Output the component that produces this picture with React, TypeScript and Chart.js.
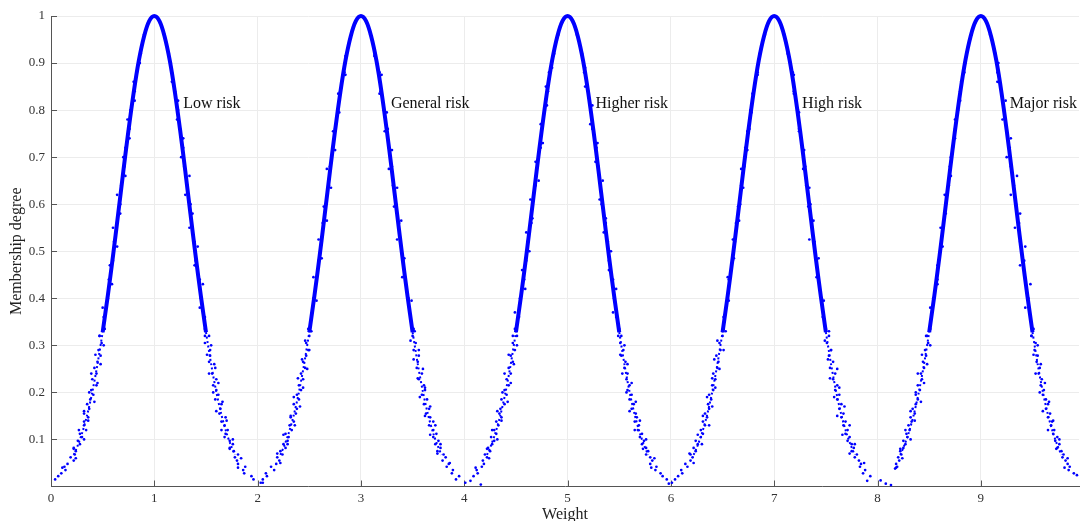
import { useEffect, useRef } from "react";
import { Chart, registerables } from "chart.js";

Chart.register(...registerables);

// ---- data ----
const riskCenters = [1, 3, 5, 7, 9];
const riskLabels = ["Low risk", "General risk", "Higher risk", "High risk", "Major risk"];
const labelX = [1.28, 3.29, 5.27, 7.27, 9.28];
const labelY = [0.804, 0.804, 0.804, 0.804, 0.804];

const xTickValues = [0, 1, 2, 3, 4, 5, 6, 7, 8, 9];
const yTickValues = [0.1, 0.2, 0.3, 0.4, 0.5, 0.6, 0.7, 0.8, 0.9, 1];

// dense core of each cloud (offset from the cloud centre, membership degree)
const coreOffsets = [-0.5, -0.45, -0.4, -0.35, -0.3, -0.25, -0.2, -0.15, -0.1, -0.05, 0, 0.05, 0.1, 0.15, 0.2, 0.25, 0.3, 0.35, 0.4, 0.45, 0.5];
const coreDegrees = [0.328, 0.406, 0.49, 0.579, 0.67, 0.757, 0.837, 0.905, 0.956, 0.989, 1, 0.989, 0.956, 0.905, 0.837, 0.757, 0.67, 0.579, 0.49, 0.406, 0.328];
// thinner trail of drops below the core, one per flank
const trailOffsetsLeft = [-0.78, -0.74, -0.7, -0.65, -0.6, -0.55, -0.5];
const trailOffsetsRight = [0.5, 0.55, 0.6, 0.65, 0.7, 0.74, 0.78];
const trailDegreesLeft = [0.067, 0.088, 0.113, 0.152, 0.201, 0.26, 0.328];
const trailDegreesRight = [0.328, 0.26, 0.201, 0.152, 0.113, 0.088, 0.067];

// cloud drops [weight, membership]
const lowRiskDrops = [
  [0.04, 0.015], [0.07, 0.022], [0.1, 0.028], [0.14, 0.035], [0.13, 0.042], [0.16, 0.048], [0.22, 0.055], [0.19, 0.062], [0.23, 0.068], [0.24, 0.075], [0.22, 0.082], [0.28, 0.09], [0.26, 0.097], [0.3, 0.105], [0.28, 0.112], [0.34, 0.12], [0.32, 0.13], [0.32, 0.138], [0.36, 0.147], [0.32, 0.155], [0.37, 0.165], [0.35, 0.175], [0.38, 0.185], [0.41, 0.195], [0.39, 0.205], [0.44, 0.215], [0.4, 0.228], [0.44, 0.24], [0.42, 0.252], [0.45, 0.265], [0.48, 0.278], [0.46, 0.29], [0.49, 0.305], [0.47, 0.32], [0.52, 0.335],
  [0.51, 0.36], [0.55, 0.4], [0.56, 0.44], [0.6, 0.48], [0.61, 0.52], [0.64, 0.56], [0.67, 0.6], [0.68, 0.64], [0.71, 0.68], [0.72, 0.72], [0.76, 0.76], [0.77, 0.8], [0.81, 0.84], [0.83, 0.88], [0.87, 0.92], [0.9, 0.96],
  [1.1, 0.96], [1.14, 0.92], [1.17, 0.88], [1.2, 0.84], [1.23, 0.8], [1.25, 0.76], [1.28, 0.72], [1.29, 0.68], [1.32, 0.64], [1.35, 0.6], [1.36, 0.56], [1.39, 0.52], [1.4, 0.48], [1.44, 0.44], [1.45, 0.4], [1.49, 0.36],
  [1.49, 0.335], [1.53, 0.32], [1.49, 0.305], [1.54, 0.29], [1.54, 0.278], [1.53, 0.265], [1.59, 0.252], [1.56, 0.24], [1.6, 0.228], [1.57, 0.215], [1.6, 0.205], [1.62, 0.195], [1.59, 0.185], [1.65, 0.175], [1.64, 0.165], [1.63, 0.155], [1.69, 0.147], [1.65, 0.138], [1.68, 0.13], [1.71, 0.12], [1.69, 0.112], [1.68, 0.105], [1.73, 0.097], [1.76, 0.09], [1.73, 0.082], [1.77, 0.075], [1.81, 0.068], [1.78, 0.062], [1.8, 0.055], [1.81, 0.048], [1.88, 0.042], [1.86, 0.035], [1.87, 0.028], [1.94, 0.022], [1.96, 0.015], [2.05, 0.008],
];
const generalRiskDrops = [
  [2.03, 0.008], [2.05, 0.015], [2.09, 0.022], [2.08, 0.028], [2.16, 0.035], [2.13, 0.042], [2.18, 0.048], [2.21, 0.055], [2.19, 0.062], [2.24, 0.068], [2.22, 0.075], [2.27, 0.082], [2.25, 0.09], [2.29, 0.097], [2.3, 0.105], [2.27, 0.112], [2.33, 0.12], [2.31, 0.13], [2.35, 0.138], [2.32, 0.147], [2.37, 0.155], [2.38, 0.165], [2.35, 0.175], [2.4, 0.185], [2.38, 0.195], [2.42, 0.205], [2.4, 0.215], [2.44, 0.228], [2.42, 0.24], [2.46, 0.252], [2.44, 0.265], [2.47, 0.278], [2.49, 0.29], [2.47, 0.305], [2.5, 0.32], [2.49, 0.335],
  [2.52, 0.36], [2.54, 0.4], [2.57, 0.44], [2.59, 0.48], [2.62, 0.52], [2.63, 0.56], [2.66, 0.6], [2.69, 0.64], [2.7, 0.68], [2.73, 0.72], [2.75, 0.76], [2.78, 0.8], [2.8, 0.84], [2.84, 0.88], [2.86, 0.92], [2.91, 0.96],
  [3.09, 0.96], [3.13, 0.92], [3.18, 0.88], [3.19, 0.84], [3.22, 0.8], [3.26, 0.76], [3.27, 0.72], [3.3, 0.68], [3.31, 0.64], [3.34, 0.6], [3.37, 0.56], [3.38, 0.52], [3.41, 0.48], [3.43, 0.44], [3.46, 0.4], [3.48, 0.36],
  [3.51, 0.335], [3.5, 0.32], [3.53, 0.305], [3.51, 0.29], [3.56, 0.278], [3.55, 0.265], [3.54, 0.252], [3.59, 0.24], [3.56, 0.228], [3.61, 0.215], [3.62, 0.205], [3.59, 0.195], [3.64, 0.185], [3.61, 0.175], [3.66, 0.165], [3.63, 0.155], [3.67, 0.147], [3.7, 0.138], [3.66, 0.13], [3.7, 0.12], [3.73, 0.112], [3.7, 0.105], [3.75, 0.097], [3.72, 0.09], [3.77, 0.082], [3.74, 0.075], [3.8, 0.068], [3.82, 0.062], [3.79, 0.055], [3.85, 0.048], [3.83, 0.042], [3.89, 0.035], [3.88, 0.028], [3.95, 0.022], [3.92, 0.015], [4.01, 0.008],
];
const higherRiskDrops = [
  [4.06, 0.012], [4.16, 0.004], [4.09, 0.022], [4.13, 0.028], [4.12, 0.035], [4.17, 0.042], [4.19, 0.048], [4.18, 0.055], [4.22, 0.062], [4.2, 0.068], [4.25, 0.075], [4.23, 0.082], [4.27, 0.09], [4.29, 0.097], [4.26, 0.105], [4.31, 0.112], [4.29, 0.12], [4.33, 0.13], [4.31, 0.138], [4.36, 0.147], [4.34, 0.155], [4.35, 0.165], [4.39, 0.175], [4.36, 0.185], [4.41, 0.195], [4.39, 0.205], [4.43, 0.215], [4.41, 0.228], [4.45, 0.24], [4.43, 0.252], [4.47, 0.265], [4.45, 0.278], [4.49, 0.29], [4.47, 0.305], [4.51, 0.32], [4.49, 0.335],
  [4.53, 0.36], [4.54, 0.4], [4.58, 0.44], [4.6, 0.48], [4.61, 0.52], [4.65, 0.56], [4.66, 0.6], [4.69, 0.64], [4.71, 0.68], [4.74, 0.72], [4.75, 0.76], [4.78, 0.8], [4.81, 0.84], [4.82, 0.88], [4.87, 0.92], [4.91, 0.96],
  [5.09, 0.96], [5.14, 0.92], [5.16, 0.88], [5.2, 0.84], [5.22, 0.8], [5.24, 0.76], [5.28, 0.72], [5.3, 0.68], [5.32, 0.64], [5.33, 0.6], [5.37, 0.56], [5.39, 0.52], [5.4, 0.48], [5.44, 0.44], [5.45, 0.4], [5.47, 0.36],
  [5.5, 0.335], [5.52, 0.32], [5.51, 0.305], [5.54, 0.29], [5.52, 0.278], [5.56, 0.265], [5.55, 0.252], [5.58, 0.24], [5.57, 0.228], [5.6, 0.215], [5.58, 0.205], [5.62, 0.195], [5.6, 0.185], [5.64, 0.175], [5.62, 0.165], [5.66, 0.155], [5.67, 0.147], [5.65, 0.138], [5.69, 0.13], [5.68, 0.12], [5.72, 0.112], [5.7, 0.105], [5.74, 0.097], [5.72, 0.09], [5.76, 0.082], [5.78, 0.075], [5.76, 0.068], [5.8, 0.062], [5.82, 0.055], [5.8, 0.048], [5.86, 0.042], [5.85, 0.035], [5.9, 0.028], [5.92, 0.022], [5.96, 0.015], [5.98, 0.006],
];
const highRiskDrops = [
  [6.01, 0.008], [6.04, 0.015], [6.07, 0.022], [6.11, 0.028], [6.1, 0.035], [6.16, 0.042], [6.14, 0.048], [6.19, 0.055], [6.21, 0.062], [6.19, 0.068], [6.24, 0.075], [6.22, 0.082], [6.26, 0.09], [6.24, 0.097], [6.29, 0.105], [6.31, 0.112], [6.29, 0.12], [6.33, 0.13], [6.31, 0.138], [6.35, 0.147], [6.33, 0.155], [6.37, 0.165], [6.36, 0.175], [6.39, 0.185], [6.37, 0.195], [6.41, 0.205], [6.4, 0.215], [6.43, 0.228], [6.41, 0.24], [6.45, 0.252], [6.46, 0.265], [6.44, 0.278], [6.48, 0.29], [6.47, 0.305], [6.5, 0.32], [6.51, 0.335],
  [6.51, 0.36], [6.55, 0.4], [6.56, 0.44], [6.6, 0.48], [6.62, 0.52], [6.63, 0.56], [6.67, 0.6], [6.68, 0.64], [6.71, 0.68], [6.72, 0.72], [6.76, 0.76], [6.77, 0.8], [6.8, 0.84], [6.84, 0.88], [6.86, 0.92], [6.91, 0.96],
  [7.1, 0.96], [7.13, 0.92], [7.18, 0.88], [7.19, 0.84], [7.23, 0.8], [7.24, 0.76], [7.27, 0.72], [7.3, 0.68], [7.31, 0.64], [7.35, 0.6], [7.36, 0.56], [7.39, 0.52], [7.41, 0.48], [7.43, 0.44], [7.46, 0.4], [7.47, 0.36],
  [7.5, 0.335], [7.53, 0.32], [7.51, 0.305], [7.55, 0.29], [7.53, 0.278], [7.57, 0.265], [7.54, 0.252], [7.59, 0.24], [7.57, 0.228], [7.61, 0.215], [7.59, 0.205], [7.63, 0.195], [7.61, 0.185], [7.65, 0.175], [7.63, 0.165], [7.67, 0.155], [7.65, 0.147], [7.69, 0.138], [7.67, 0.13], [7.71, 0.12], [7.69, 0.112], [7.73, 0.105], [7.71, 0.097], [7.75, 0.09], [7.77, 0.082], [7.75, 0.075], [7.8, 0.068], [7.78, 0.062], [7.82, 0.055], [7.84, 0.048], [7.83, 0.042], [7.88, 0.035], [7.86, 0.028], [7.93, 0.022], [7.9, 0.012], [8.03, 0.013],
];
const majorRiskDrops = [
  [8.08, 0.006], [8.13, 0.003], [8.17, 0.038], [8.19, 0.042], [8.18, 0.048], [8.21, 0.055], [8.2, 0.062], [8.23, 0.068], [8.22, 0.075], [8.25, 0.082], [8.27, 0.09], [8.25, 0.097], [8.29, 0.105], [8.28, 0.112], [8.31, 0.12], [8.3, 0.13], [8.33, 0.138], [8.32, 0.147], [8.36, 0.155], [8.34, 0.165], [8.37, 0.175], [8.39, 0.185], [8.37, 0.195], [8.41, 0.205], [8.39, 0.215], [8.43, 0.228], [8.42, 0.24], [8.45, 0.252], [8.44, 0.265], [8.47, 0.278], [8.46, 0.29], [8.49, 0.305], [8.48, 0.32], [8.51, 0.335],
  [8.52, 0.36], [8.54, 0.4], [8.58, 0.44], [8.59, 0.48], [8.62, 0.52], [8.64, 0.56], [8.66, 0.6], [8.69, 0.64], [8.7, 0.68], [8.73, 0.72], [8.75, 0.76], [8.78, 0.8], [8.8, 0.84], [8.84, 0.88], [8.86, 0.92], [8.91, 0.96],
  [9.09, 0.96], [9.14, 0.92], [9.16, 0.88], [9.2, 0.84], [9.22, 0.8], [9.25, 0.76], [9.28, 0.72], [9.29, 0.68], [9.32, 0.64], [9.34, 0.6], [9.37, 0.56], [9.38, 0.52], [9.42, 0.48], [9.43, 0.44], [9.46, 0.4], [9.48, 0.36],
  [9.51, 0.335], [9.49, 0.32], [9.53, 0.305], [9.52, 0.29], [9.55, 0.278], [9.54, 0.265], [9.57, 0.252], [9.56, 0.24], [9.59, 0.228], [9.58, 0.215], [9.61, 0.205], [9.6, 0.195], [9.63, 0.185], [9.65, 0.175], [9.63, 0.165], [9.67, 0.155], [9.65, 0.147], [9.69, 0.138], [9.68, 0.13], [9.71, 0.12], [9.7, 0.112], [9.74, 0.105], [9.72, 0.097], [9.76, 0.09], [9.74, 0.082], [9.78, 0.075], [9.8, 0.068], [9.79, 0.062], [9.82, 0.055], [9.84, 0.048], [9.86, 0.042], [9.85, 0.035], [9.9, 0.028], [9.93, 0.024],
];

// outer drops that give each cloud its fuzzy width
const lowRiskFuzz = [
  [0.11, 0.04], [0.24, 0.06], [0.22, 0.08], [0.32, 0.1], [0.27, 0.12], [0.36, 0.14], [0.32, 0.16], [0.42, 0.18], [0.37, 0.2], [0.45, 0.22], [0.39, 0.24], [0.48, 0.26], [0.43, 0.28], [0.51, 0.3], [0.47, 0.32],
  [0.5, 0.38], [0.59, 0.43], [0.57, 0.47], [0.64, 0.51], [0.6, 0.55], [0.67, 0.58], [0.64, 0.62], [0.72, 0.66], [0.7, 0.7], [0.76, 0.74], [0.74, 0.78], [0.81, 0.82], [0.8, 0.86], [0.86, 0.9],
  [1.44, 0.38], [1.47, 0.43], [1.39, 0.47], [1.42, 0.51], [1.34, 0.55], [1.37, 0.58], [1.3, 0.62], [1.34, 0.66], [1.26, 0.7], [1.28, 0.74], [1.22, 0.78], [1.23, 0.82], [1.17, 0.86], [1.16, 0.9],
  [1.81, 0.04], [1.84, 0.06], [1.73, 0.08], [1.76, 0.1], [1.65, 0.12], [1.7, 0.14], [1.6, 0.16], [1.66, 0.18], [1.57, 0.2], [1.62, 0.22], [1.53, 0.24], [1.58, 0.26], [1.51, 0.28], [1.55, 0.3], [1.49, 0.32],
];
const generalRiskFuzz = [
  [2.22, 0.05], [2.19, 0.07], [2.29, 0.09], [2.25, 0.11], [2.36, 0.13], [2.32, 0.15], [2.41, 0.17], [2.35, 0.19], [2.44, 0.21], [2.39, 0.23], [2.48, 0.25], [2.43, 0.27], [2.5, 0.29], [2.46, 0.31], [2.52, 0.33],
  [2.57, 0.395], [2.54, 0.445], [2.62, 0.485], [2.59, 0.525], [2.67, 0.565], [2.64, 0.595], [2.71, 0.635], [2.67, 0.675], [2.75, 0.715], [2.73, 0.755], [2.79, 0.795], [2.78, 0.835], [2.85, 0.875], [2.85, 0.915],
  [3.49, 0.395], [3.4, 0.445], [3.42, 0.485], [3.35, 0.525], [3.39, 0.565], [3.32, 0.595], [3.35, 0.635], [3.27, 0.675], [3.3, 0.715], [3.23, 0.755], [3.25, 0.795], [3.18, 0.835], [3.2, 0.875], [3.13, 0.915],
  [3.86, 0.05], [3.74, 0.07], [3.77, 0.09], [3.67, 0.11], [3.72, 0.13], [3.62, 0.15], [3.67, 0.17], [3.57, 0.19], [3.62, 0.21], [3.55, 0.23], [3.6, 0.25], [3.51, 0.27], [3.56, 0.29], [3.48, 0.31], [3.52, 0.33],
];
const higherRiskFuzz = [
  [4.11, 0.04], [4.24, 0.06], [4.22, 0.08], [4.32, 0.1], [4.27, 0.12], [4.36, 0.14], [4.32, 0.16], [4.42, 0.18], [4.37, 0.2], [4.45, 0.22], [4.39, 0.24], [4.48, 0.26], [4.43, 0.28], [4.51, 0.3], [4.47, 0.32],
  [4.49, 0.37], [4.59, 0.42], [4.56, 0.46], [4.63, 0.5], [4.6, 0.54], [4.66, 0.57], [4.64, 0.61], [4.72, 0.65], [4.69, 0.69], [4.76, 0.73], [4.74, 0.77], [4.8, 0.81], [4.79, 0.85], [4.85, 0.89],
  [5.44, 0.37], [5.47, 0.42], [5.4, 0.46], [5.42, 0.5], [5.35, 0.54], [5.37, 0.57], [5.31, 0.61], [5.34, 0.65], [5.27, 0.69], [5.29, 0.73], [5.22, 0.77], [5.24, 0.81], [5.17, 0.85], [5.17, 0.89],
  [5.81, 0.04], [5.84, 0.06], [5.73, 0.08], [5.76, 0.1], [5.65, 0.12], [5.7, 0.14], [5.6, 0.16], [5.66, 0.18], [5.57, 0.2], [5.62, 0.22], [5.53, 0.24], [5.58, 0.26], [5.51, 0.28], [5.55, 0.3], [5.49, 0.32],
];
const highRiskFuzz = [
  [6.22, 0.05], [6.18, 0.07], [6.3, 0.09], [6.26, 0.11], [6.37, 0.13], [6.31, 0.15], [6.4, 0.17], [6.35, 0.19], [6.43, 0.21], [6.4, 0.23], [6.47, 0.25], [6.42, 0.27], [6.51, 0.29], [6.45, 0.31], [6.53, 0.33],
  [6.56, 0.395], [6.55, 0.445], [6.61, 0.485], [6.6, 0.525], [6.66, 0.565], [6.65, 0.595], [6.7, 0.635], [6.68, 0.675], [6.74, 0.715], [6.74, 0.755], [6.78, 0.795], [6.79, 0.835], [6.84, 0.875], [6.86, 0.915],
  [7.48, 0.395], [7.41, 0.445], [7.43, 0.485], [7.34, 0.525], [7.38, 0.565], [7.33, 0.595], [7.34, 0.635], [7.28, 0.675], [7.29, 0.715], [7.24, 0.755], [7.24, 0.795], [7.19, 0.835], [7.19, 0.875], [7.14, 0.915],
  [7.87, 0.05], [7.73, 0.07], [7.78, 0.09], [7.66, 0.11], [7.73, 0.13], [7.61, 0.15], [7.68, 0.17], [7.58, 0.19], [7.63, 0.21], [7.54, 0.23], [7.61, 0.25], [7.52, 0.27], [7.55, 0.29], [7.49, 0.31], [7.53, 0.33],
];
const majorRiskFuzz = [
  [8.18, 0.04], [8.24, 0.06], [8.22, 0.08], [8.32, 0.1], [8.27, 0.12], [8.36, 0.14], [8.32, 0.16], [8.42, 0.18], [8.37, 0.2], [8.45, 0.22], [8.39, 0.24], [8.48, 0.26], [8.43, 0.28], [8.51, 0.3], [8.47, 0.32],
  [8.51, 0.38], [8.58, 0.43], [8.58, 0.47], [8.63, 0.51], [8.61, 0.55], [8.66, 0.58], [8.65, 0.62], [8.71, 0.66], [8.71, 0.7], [8.75, 0.74], [8.75, 0.78], [8.8, 0.82], [8.81, 0.86], [8.85, 0.9],
  [9.43, 0.38], [9.48, 0.43], [9.38, 0.47], [9.43, 0.51], [9.33, 0.55], [9.38, 0.58], [9.29, 0.62], [9.35, 0.66], [9.25, 0.7], [9.29, 0.74], [9.21, 0.78], [9.24, 0.82], [9.16, 0.86], [9.17, 0.9],
  [9.81, 0.04], [9.84, 0.06], [9.73, 0.08], [9.76, 0.1], [9.65, 0.12], [9.7, 0.14], [9.6, 0.16], [9.66, 0.18], [9.57, 0.2], [9.62, 0.22], [9.53, 0.24], [9.58, 0.26], [9.51, 0.28], [9.55, 0.3], [9.49, 0.32],
];

const allDrops = [lowRiskDrops, generalRiskDrops, higherRiskDrops, highRiskDrops, majorRiskDrops];
const allFuzz = [lowRiskFuzz, generalRiskFuzz, higherRiskFuzz, highRiskFuzz, majorRiskFuzz];

const X_MIN = 0;
const X_MAX = 9.95;
const SERIF = "'Liberation Serif', 'Times New Roman', serif";
const BLUE = "#0000ff";

const decorPlugin = {
  id: "decor",
  beforeDatasetsDraw(chart: any) {
    const { ctx, chartArea, scales } = chart;
    const x = scales.x;
    const y = scales.y;
    ctx.save();
    ctx.strokeStyle = "#555";
    ctx.lineWidth = 1;
    ctx.beginPath();
    xTickValues.forEach((v) => {
      const px = Math.round(x.getPixelForValue(v)) + 0.5;
      ctx.moveTo(px, chartArea.bottom);
      ctx.lineTo(px, chartArea.bottom - 6);
    });
    yTickValues.forEach((v) => {
      const py = Math.round(y.getPixelForValue(v)) + 0.5;
      ctx.moveTo(chartArea.left, py);
      ctx.lineTo(chartArea.left + 6, py);
    });
    ctx.stroke();
    ctx.restore();
  },
  afterDatasetsDraw(chart: any) {
    const { ctx, scales } = chart;
    ctx.save();
    ctx.font = `16px ${SERIF}`;
    ctx.fillStyle = "#111";
    ctx.textAlign = "left";
    ctx.textBaseline = "alphabetic";
    riskLabels.forEach((t, i) => {
      ctx.fillText(t, scales.x.getPixelForValue(labelX[i]), scales.y.getPixelForValue(labelY[i]));
    });
    ctx.restore();
  },
};

export default function App() {
  const canvasRef = useRef<HTMLCanvasElement | null>(null);

  useEffect(() => {
    if (!canvasRef.current) return;
    const datasets: any[] = [];
    riskCenters.forEach((c, k) => {
      datasets.push({
        label: riskLabels[k] + " core",
        data: coreOffsets.map((o, i) => ({ x: c + o, y: coreDegrees[i] })),
        showLine: true,
        borderColor: BLUE,
        borderWidth: 4,
        pointRadius: 0,
        tension: 0.35,
        clip: false,
      });
      [
        [trailOffsetsLeft, trailDegreesLeft],
        [trailOffsetsRight, trailDegreesRight],
      ].forEach(([offs, degs], side) => {
        datasets.push({
          label: riskLabels[k] + " trail " + side,
          data: offs.map((o, i) => ({ x: c + o, y: degs[i] })),
          showLine: true,
          borderColor: BLUE,
          borderWidth: 2,
          borderDash: [2, 2.5],
          pointRadius: 0,
          tension: 0.3,
          clip: false,
        });
      });
      datasets.push({
        label: riskLabels[k],
        data: allDrops[k].concat(allFuzz[k]).map(([x, y]) => ({ x, y })),
        showLine: false,
        pointRadius: 1.35,
        pointBorderWidth: 0,
        pointBackgroundColor: BLUE,
        clip: false,
      });
    });

    const chart = new Chart(canvasRef.current, {
      type: "scatter",
      data: { datasets },
      plugins: [decorPlugin],
      options: {
        animation: false,
        responsive: true,
        maintainAspectRatio: false,
        layout: { padding: { top: 16, right: 0, bottom: 0, left: 0 } },
        plugins: { legend: { display: false }, tooltip: { enabled: false } },
        scales: {
          x: {
            type: "linear",
            min: X_MIN,
            max: X_MAX,
            afterBuildTicks: (scale: any) => {
              scale.ticks = xTickValues.map((v) => ({ value: v }));
            },
            afterFit: (scale: any) => {
              scale.height = 34.5;
            },
            grid: { color: "#ececec", lineWidth: 1, drawTicks: false },
            border: { color: "#555", width: 1 },
            ticks: {
              autoSkip: false,
              maxRotation: 0,
              padding: 4,
              color: "#333",
              font: { family: SERIF, size: 13 },
              callback: (v: any) => String(v),
            },
            title: {
              display: true,
              text: "Weight",
              color: "#222",
              font: { family: SERIF, size: 16 },
              padding: { top: 0, bottom: -3 },
            },
          },
          y: {
            type: "linear",
            min: 0,
            max: 1,
            afterBuildTicks: (scale: any) => {
              scale.ticks = yTickValues.map((v) => ({ value: v }));
            },
            afterFit: (scale: any) => {
              scale.width = 51;
            },
            grid: { color: "#ececec", lineWidth: 1, drawTicks: false },
            border: { color: "#555", width: 1 },
            ticks: {
              autoSkip: false,
              padding: 6,
              color: "#333",
              font: { family: SERIF, size: 13 },
              callback: (v: any) => String(v),
            },
            title: {
              display: true,
              text: "Membership degree",
              color: "#222",
              font: { family: SERIF, size: 16 },
              padding: { top: 7, bottom: 0 },
            },
          },
        },
      },
    });
    return () => chart.destroy();
  }, []);

  return (
    <div style={{ position: "absolute", left: 0, top: 0, width: 1083, height: 521, background: "#fff" }}>
      <canvas ref={canvasRef} />
    </div>
  );
}
